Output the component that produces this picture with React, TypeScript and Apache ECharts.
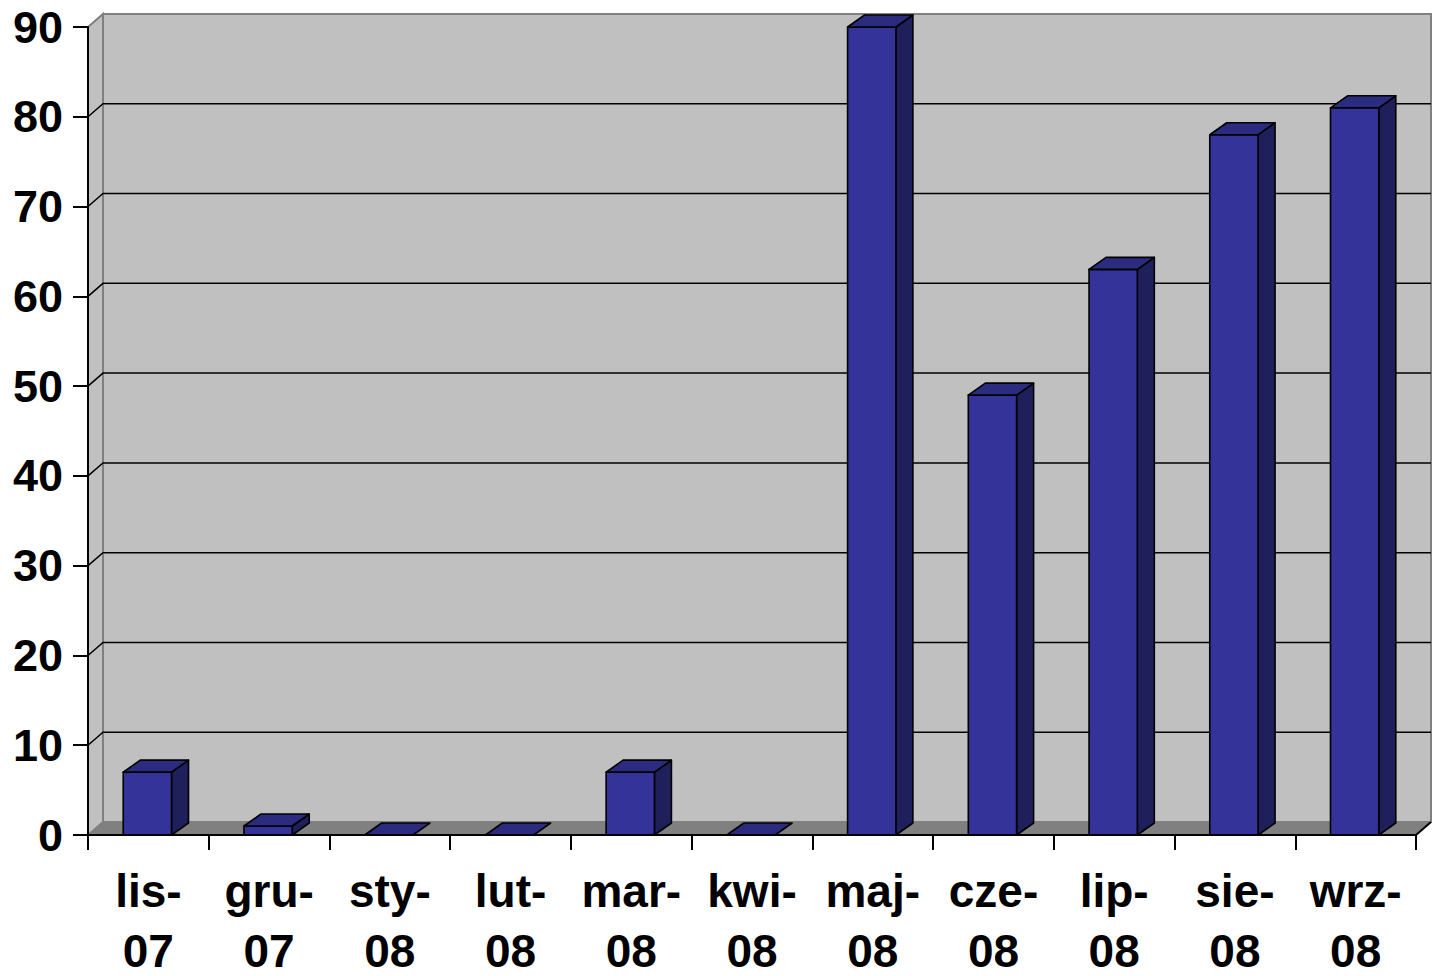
import React, { useEffect, useRef } from "react";
import * as echarts from "echarts";

const categories = ["lis-07", "gru-07", "sty-08", "lut-08", "mar-08", "kwi-08", "maj-08", "cze-08", "lip-08", "sie-08", "wrz-08"];
const values = [7, 1, 0, 0, 7, 0, 90, 49, 63, 78, 81];
const yTicks = [0, 10, 20, 30, 40, 50, 60, 70, 80, 90];

const FONT = "'Liberation Sans', Arial, Helvetica, sans-serif";

export default function App() {
  const ref = useRef<HTMLDivElement>(null);
  useEffect(() => {
    if (!ref.current) return;
    const chart = echarts.init(ref.current, undefined, { renderer: "svg" });
    const WDX = 15, WDY = 13;
    const BDX = 17, BDY = 12;
    const option = {
      animation: false,
      backgroundColor: "#ffffff",
      grid: { left: 88, right: 20, top: 27, bottom: 141, containLabel: false, outerBoundsMode: "none" },
      xAxis: {
        type: "category",
        data: categories,
        z: 3,
        axisLine: { show: true, lineStyle: { color: "#000", width: 2 } },
        axisTick: { show: true, length: 15, inside: false, lineStyle: { color: "#000", width: 2 } },
        axisLabel: {
          interval: 0,
          margin: 26,
          fontSize: 46,
          fontWeight: "bold",
          fontFamily: FONT,
          color: "#000",
          lineHeight: 60,
          formatter: (v: string) => v.replace("-", "-\n"),
        },
        splitLine: { show: false },
      },
      yAxis: {
        type: "value",
        min: 0,
        max: 90,
        interval: 10,
        z: 3,
        axisLine: { show: true, lineStyle: { color: "#000", width: 2 } },
        axisTick: { show: true, length: 15, inside: false, lineStyle: { color: "#000", width: 2 } },
        axisLabel: {
          margin: 25,
          fontSize: 45,
          fontWeight: "bold",
          fontFamily: FONT,
          color: "#000",
        },
        splitLine: { show: false },
      },
      series: [
        {
          type: "custom",
          z: 1,
          silent: true,
          data: [[0]],
          renderItem: (params: any, api: any) => {
            const cs = params.coordSys;
            const L = cs.x, R = cs.x + cs.width;
            const B = api.coord([0, 0])[1];
            const T = api.coord([0, 90])[1];
            const children: any[] = [];
            children.push({
              type: "polygon",
              shape: { points: [[L + WDX, T - WDY], [R + WDX, T - WDY], [R + WDX, B - WDY], [L + WDX, B - WDY]] },
              style: { fill: "#c0c0c0", stroke: "#808080", lineWidth: 2 },
            });
            children.push({
              type: "polygon",
              shape: { points: [[L, T], [L + WDX, T - WDY], [L + WDX, B - WDY], [L, B]] },
              style: { fill: "#c0c0c0", stroke: "#808080", lineWidth: 2 },
            });
            yTicks.forEach((t) => {
              if (t === 0 || t === 90) return;
              const y = api.coord([0, t])[1];
              children.push({
                type: "polyline",
                shape: { points: [[L, y], [L + WDX, y - WDY], [R + WDX, y - WDY]] },
                style: { stroke: "#000", lineWidth: 1.5, fill: null },
              });
            });
            children.push({
              type: "polygon",
              shape: { points: [[L, B], [L + WDX, B - WDY], [R + WDX, B - WDY], [R, B]] },
              style: { fill: "#808080", stroke: "#808080", lineWidth: 1 },
            });
            children.push({
              type: "line",
              shape: { x1: R, y1: B, x2: R + WDX, y2: B - WDY },
              style: { stroke: "#000", lineWidth: 2 },
            });
            return { type: "group", children };
          },
        },
        {
          type: "custom",
          z: 2,
          data: values.map((v, i) => [i, v]),
          encode: { x: 0, y: 1 },
          renderItem: (params: any, api: any) => {
            const i = api.value(0);
            const v = api.value(1);
            const base = api.coord([i, 0]);
            const top = api.coord([i, v]);
            const bw = api.size([1, 0])[0] * 0.4;
            const x0 = base[0] - bw / 2 - 1;
            const x1 = x0 + bw;
            const yb = base[1];
            const yt = top[1];
            const stroke = { stroke: "#000", lineWidth: 1.6, lineJoin: "round" };
            const children: any[] = [];
            if (v > 0) {
              children.push({
                type: "polygon",
                shape: { points: [[x1, yt], [x1 + BDX, yt - BDY], [x1 + BDX, yb - BDY], [x1, yb]] },
                style: { fill: "#1f1f5c", ...stroke },
              });
              children.push({
                type: "polygon",
                shape: { points: [[x0, yt], [x1, yt], [x1, yb], [x0, yb]] },
                style: { fill: "#333399", ...stroke },
              });
            }
            children.push({
              type: "polygon",
              shape: { points: [[x0, yt], [x0 + BDX, yt - BDY], [x1 + BDX, yt - BDY], [x1, yt]] },
              style: { fill: "#2b2b80", ...stroke },
            });
            return { type: "group", children };
          },
        },
      ],
    };
    chart.setOption(option as any);
    return () => chart.dispose();
  }, []);
  return (
    <div
      ref={ref}
      style={{ position: "absolute", left: 0, top: 0, width: 1436, height: 976 }}
    />
  );
}
